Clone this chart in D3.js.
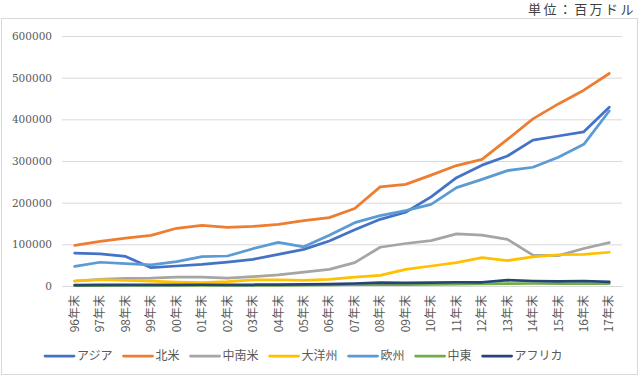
<!DOCTYPE html>
<html><head><meta charset="utf-8">
<script src="https://cdn.jsdelivr.net/npm/d3@7"></script>
<style>
html,body{margin:0;padding:0;background:#fff;}
svg{display:block;}
</style></head>
<body>
<script>
const categories = ["96年末","97年末","98年末","99年末","00年末","01年末","02年末","03年末","04年末","05年末","06年末","07年末","08年末","09年末","10年末","11年末","12年末","13年末","14年末","15年末","16年末","17年末"];
const seriesNames = ["アジア","北米","中南米","大洋州","欧州","中東","アフリカ"];
const seriesColors = ["#4472C4","#ED7D31","#A5A5A5","#FFC000","#5B9BD5","#70AD47","#264478"];
const asia = [79000,77000,71000,44000,48000,52000,57500,64000,76000,88000,108000,135000,160000,177000,214000,260000,290000,312000,350000,360000,370000,429000];
const northAmerica = [97500,107000,115000,121500,138500,145500,140500,143000,148000,157000,164000,186000,238000,244000,266000,289000,304000,352000,401000,437000,470000,510000];
const latinAmerica = [12000,16000,18500,19000,21500,21500,19000,22500,26500,33500,40000,56000,93000,102000,109000,125000,122000,112000,74000,73000,90000,104000];
const oceania = [12000,15000,13500,11500,9500,8000,10500,14500,15000,13500,16000,21500,25500,40000,48000,56000,68000,61000,70000,75000,76000,81000];
const europe = [47000,57000,53500,50500,58500,70500,72000,89500,104500,94000,122000,152000,169000,181000,196000,236000,256000,277000,285000,309000,340000,420000];
const middleEast = [1000,1200,1300,1300,1400,1500,1500,1600,1800,2000,2500,3000,3500,3500,4000,4500,5000,5500,6000,6000,6000,6000];
const africa = [2000,2500,2500,2500,2500,3000,3000,3000,3500,4000,4500,6000,8000,7500,8000,9000,9000,14000,12000,11000,12000,10000];
const yTicks = [0,100000,200000,300000,400000,500000,600000];
const unitLabel = "単位：百万ドル";

const seriesValues = [asia,northAmerica,latinAmerica,oceania,europe,middleEast,africa];

const W = 639, H = 379;
const plotLeft = 62, plotRight = 622, plotTop = 36, plotBottom = 286;

const svg = d3.select("body").append("svg").attr("width", W).attr("height", H);

// chart border
svg.append("rect").attr("x",1.5).attr("y",18.5).attr("width",636).attr("height",356)
  .attr("fill","#fff").attr("stroke","#d9d9d9").attr("stroke-width",1);

// unit label
svg.append("text").attr("x",528).attr("y",14).text(unitLabel)
  .attr("font-family","'Noto Sans CJK JP'").attr("font-size",13).attr("letter-spacing",2.4)
  .attr("fill","#404040");

const x = d3.scaleBand().domain(categories).range([plotLeft,plotRight]).padding(0);
const y = d3.scaleLinear().domain([0,600000]).range([plotBottom,plotTop]);

// y axis + grid
const gy = svg.append("g").attr("transform",`translate(${plotLeft},0)`)
  .call(d3.axisLeft(y).tickValues(yTicks).tickSize(-(plotRight-plotLeft)).tickPadding(10).tickFormat(d3.format("d")));
gy.select(".domain").remove();
gy.selectAll(".tick line").attr("stroke","#d9d9d9").attr("stroke-width",1);
gy.selectAll(".tick text").attr("font-family","'DejaVu Serif'").attr("font-size",10.5).attr("fill","#595959");

// x axis
const gx = svg.append("g").attr("transform",`translate(0,${plotBottom})`)
  .call(d3.axisBottom(x).tickSize(0).tickPadding(0));
gx.select(".domain").attr("stroke","#d9d9d9");
gx.selectAll(".tick text")
  .attr("font-family","'Noto Sans CJK JP'").attr("font-size",12).attr("fill","#595959")
  .attr("text-anchor","end").attr("dy","0.35em")
  .attr("transform","translate(0,9) rotate(-90)").attr("y",0).attr("x",0);

// lines
const line = d3.line().x((d,i)=>x(categories[i]) + x.bandwidth()/2).y(d=>y(d));
seriesValues.forEach((vals,k)=>{
  svg.append("path").datum(vals).attr("d",line).attr("fill","none")
    .attr("stroke",seriesColors[k]).attr("stroke-width",2.75)
    .attr("stroke-linejoin","round").attr("stroke-linecap","round");
});

// legend
const lg = svg.append("g");
let lx = 45;
const ly = 356;
seriesNames.forEach((name,k)=>{
  lg.append("line").attr("x1",lx).attr("x2",lx+29).attr("y1",ly).attr("y2",ly)
    .attr("stroke",seriesColors[k]).attr("stroke-width",2.75).attr("stroke-linecap","round");
  const t = lg.append("text").attr("x",lx+32).attr("y",ly).attr("dy","0.35em").text(name)
    .attr("font-family","'Noto Sans CJK JP'").attr("font-size",12).attr("fill","#595959");
  const w = t.node().getComputedTextLength();
  lx = lx + 32 + w + 11;
});
</script>
</body></html>
